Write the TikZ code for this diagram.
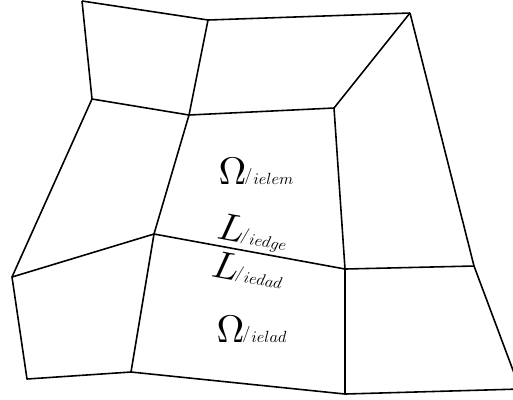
\documentclass[tikz,border=0pt]{standalone}
\usepackage{amsmath,amssymb}
\usepackage{graphicx}
\usepackage{tikz}
\usetikzlibrary{positioning}
\newcommand{\domsub}[1]{\hspace{-0.6pt}\scalebox{0.42}{$\raisebox{0.2em}{$/$}\mkern1mu #1$}}
\tikzstyle{edge} = [black, line width=0.45pt, line join=round]
\tikzstyle{domlabel} = [inner sep=0pt, font=\fontsize{10.95}{13}\selectfont]

\begin{document}
\begin{tikzpicture}[x=0.01cm, y=-0.01cm]
    \clip (0,0) rectangle (513,399);
    % mesh vertices
    \coordinate (a) at (82,1);
    \coordinate (b) at (208,20);
    \coordinate (c) at (410,13);
    \coordinate (d) at (92,99);
    \coordinate (e) at (189,115);
    \coordinate (f) at (334,108);
    \coordinate (g) at (12,277);
    \coordinate (h) at (154,234);
    \coordinate (i) at (345,269);
    \coordinate (j) at (474,266);
    \coordinate (k) at (27,379);
    \coordinate (l) at (131,372);
    \coordinate (m) at (345,394);
    \coordinate (n) at (520,389);

    \draw [edge] (a) -- (b) -- (c);
    \draw [edge] (a) -- (d) -- (g) -- (k) -- (l) -- (m) -- (n);
    \draw [edge] (b) -- (e) -- (h) -- (l);
    \draw [edge] (d) -- (e) -- (f) -- (i) -- (m);
    \draw [edge] (c) -- (f);
    \draw [edge] (c) -- (j) -- (n);
    \draw [edge] (g) -- (h);
    \draw [edge] (i) -- (j);

    % shared edge and its labels
    \draw [edge] (h) -- (i)
        node [pos=0.50, sloped, above, domlabel, inner sep=0.8pt] (edgetop) {$L$\domsub{iedge}}
        node [pos=0.51, sloped, below, domlabel, inner sep=1.2pt] (edgebot) {$L$\domsub{iedad}};

    \node (omtop) [domlabel, anchor=base west] at (218,184) {$\Omega$\domsub{ielem}};
    \node (ombot) [domlabel, anchor=base west] at (216,342) {$\Omega$\domsub{ielad}};
\end{tikzpicture}
\end{document}
